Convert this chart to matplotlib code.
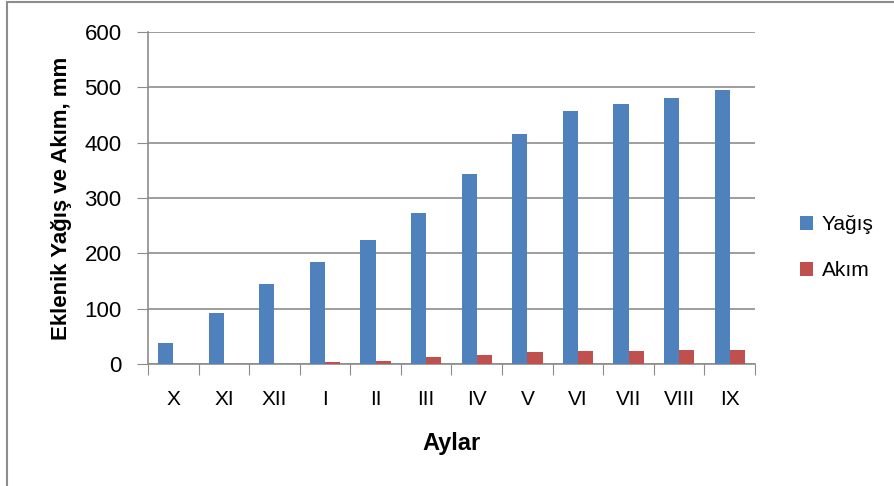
import matplotlib
matplotlib.use('Agg')
import matplotlib.pyplot as plt
import numpy as np
from matplotlib.patches import Rectangle

# veriler
aylar = ['X', 'XI', 'XII', 'I', 'II', 'III', 'IV', 'V', 'VI', 'VII', 'VIII', 'IX']
yagis = [38, 92, 145, 184, 224, 272, 343, 415, 457, 469, 480, 496]
akim = [0, 0, 0, 3, 6, 12, 17, 22, 24, 24, 26, 26]

plt.rcParams['font.family'] = ['Liberation Sans', 'DejaVu Sans']

fig = plt.figure(figsize=(8.95, 4.86), dpi=100)
ax = fig.add_axes([148 / 895, 122 / 486, 607 / 895, 332 / 486])

x = np.arange(len(aylar))
w = 0.3
ax.bar(x - w / 2, yagis, w, color='#4F81BD', label='Yağış', zorder=3)
ax.bar(x + w / 2, akim, w, color='#C0504D', label='Akım', zorder=3)

ax.set_xlim(-0.5, len(aylar) - 0.5)
ax.set_ylim(0, 600)
ax.set_yticks(range(0, 601, 100))
ax.yaxis.grid(True, color='#8c8c8c', linewidth=1.2, zorder=0)

# kategori sınırlarında tik, ortada etiket
ax.set_xticks(np.arange(-0.5, len(aylar), 1))
ax.set_xticklabels([])
ax.set_xticks(x, minor=True)
ax.set_xticklabels(aylar, minor=True, fontsize=15)
ax.tick_params(axis='x', which='major', length=8, color='#8c8c8c', direction='out')
ax.tick_params(axis='x', which='minor', length=0, pad=19)
ax.tick_params(axis='y', length=8, color='#8c8c8c', labelsize=16, pad=11)

for s in ['top', 'right']:
    ax.spines[s].set_visible(False)
ax.spines['left'].set_color('#8c8c8c')
ax.spines['bottom'].set_color('#8c8c8c')
ax.spines['left'].set_linewidth(1.2)
ax.spines['bottom'].set_linewidth(1.2)

ax.set_xlabel('Aylar', fontsize=17, fontweight='bold', labelpad=16)
ax.set_ylabel('Eklenik Yağış ve Akım, mm', fontsize=16, fontweight='bold', labelpad=9)

ax.legend(loc='center left', bbox_to_anchor=(800 / 895, 0.49),
          bbox_transform=fig.transFigure, frameon=False, borderaxespad=0,
          borderpad=0, fontsize=15, handlelength=0.63, handleheight=0.6,
          labelspacing=1.3, handletextpad=0.4)

# dış çerçeve
fig.patches.append(Rectangle((7 / 895, -0.1), 1.2, 1 - 2 / 486 + 0.1,
                             transform=fig.transFigure, fill=False,
                             edgecolor='#8c8c8c', linewidth=1.5))

fig.savefig('out.png', dpi=100)
